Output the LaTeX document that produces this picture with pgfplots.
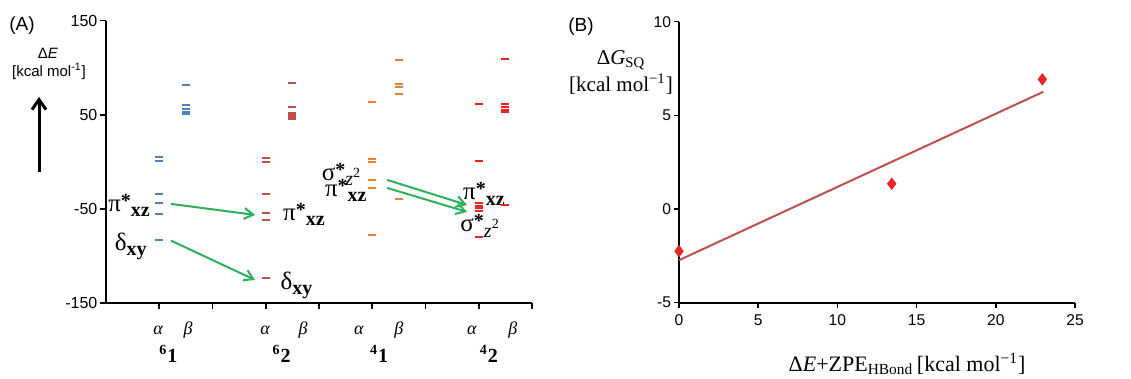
\documentclass[border=0pt]{standalone}
\usepackage{fontspec}
\setmainfont{Liberation Sans}
\newfontfamily\tnr{Liberation Serif}
\usepackage{pgfplots}
\pgfplotsset{compat=1.18}
\usetikzlibrary{arrows.meta}
\definecolor{cblue}{RGB}{79,129,189}
\definecolor{cbrown}{RGB}{192,80,77}
\definecolor{corange}{RGB}{237,125,49}
\definecolor{cred}{RGB}{238,34,34}
\definecolor{cgreen}{RGB}{46,176,90}
\definecolor{cline}{RGB}{192,80,77}
\newcommand{\grk}[1]{{\fontsize{12.5}{13}\selectfont #1}}
\newcommand{\pixz}{\grk{π}\raisebox{0.45ex}{\textbf{*}}\raisebox{-0.55ex}{\textbf{xz}}}
\newcommand{\dxy}{\grk{δ}\raisebox{-0.55ex}{\textbf{xy}}}
\newcommand{\szz}{\grk{σ}\raisebox{0.45ex}{\textbf{*}}\raisebox{-0.55ex}{\textit{z}\raisebox{0.9ex}{\fontsize{7}{8}\selectfont 2}}}
\pgfplotstableread{
x y
1 5.2
1 0.6
1 -34.1
1 -44
1 -55.7
1 -83
1.5 82
1.5 60
1.5 56
1.5 53.5
1.5 51
}\tblA
\pgfplotstableread{
x y
3 4.1
3 -0.1
3 -33.8
3 -54.6
3 -61.7
3 -123.7
3.5 84
3.5 58.3
3.5 52.3
3.5 49.8
3.5 47.4
3.5 45.3
}\tblB
\pgfplotstableread{
x y
5 63.3
5 2.8
5 0.2
5 -19.2
5 -27.4
5 -77.7
5.5 108
5.5 83
5.5 79.3
5.5 71.8
5.5 -39.4
}\tblC
\pgfplotstableread{
x y
7 61.8
7 1.3
7 -43.3
7 -46.5
7 -49.3
7 -52.2
7 -80
7.5 109.3
7.5 61.2
7.5 58
7.5 55.1
7.5 52.7
7.5 -45.8
}\tblD
\begin{document}
\begin{tikzpicture}
\path[use as bounding box] (0,0) rectangle (565.5pt,189.5pt);
\begin{axis}[at={(53pt,38pt)}, anchor=south west, scale only axis,
  width=213pt, height=141.15pt,
  xmin=0, xmax=8, ymin=-150, ymax=150,
  axis lines=left, axis line style={-, line width=1.2pt},
  xtick={1,...,8}, xticklabels={},
  ytick={-150,-50,50,150},
  tick align=outside, tick style={black, line width=0.8pt},
  major tick length=2.8pt,
  /pgf/number format/assume math mode=true,
  yticklabel style={font=\fontsize{8}{9}\selectfont, xshift=2pt},
  clip=false]
\addplot[only marks, mark=-, mark size=2pt, cblue, mark options={line width=1pt}] table[x=x,y=y] {\tblA};
\addplot[only marks, mark=-, mark size=2pt, cbrown, mark options={line width=1pt}] table[x=x,y=y] {\tblB};
\addplot[only marks, mark=-, mark size=2pt, corange, mark options={line width=1pt}] table[x=x,y=y] {\tblC};
\addplot[only marks, mark=-, mark size=2pt, cred, mark options={line width=1pt}] table[x=x,y=y] {\tblD};
\draw[cgreen, line width=1pt, -{Straight Barb[length=4.5pt,width=5.5pt]}] (axis cs:1.22,-44.7) -- (axis cs:2.80,-56.4);
\draw[cgreen, line width=1pt, -{Straight Barb[length=4.5pt,width=5.5pt]}] (axis cs:1.22,-83.7) -- (axis cs:2.80,-125.5);
\draw[cgreen, line width=1pt, -{Straight Barb[length=4.5pt,width=5.5pt]}] (axis cs:5.28,-19.2) -- (axis cs:6.78,-45.8);
\draw[cgreen, line width=1pt, -{Straight Barb[length=4.5pt,width=5.5pt]}] (axis cs:5.28,-27.7) -- (axis cs:6.78,-53.2);
\begin{scope}[every node/.style={font=\tnr\fontsize{10}{11}\selectfont, inner sep=0pt}]
\node[anchor=east] at (axis cs:0.83,-46) {\pixz};
\node[anchor=east] at (axis cs:0.77,-90) {\dxy};
\node[anchor=west] at (axis cs:3.32,-56) {\pixz};
\node[anchor=west] at (axis cs:3.27,-131) {\dxy};
\node[anchor=east] at (axis cs:4.78,-13) {\szz};
\node[anchor=east] at (axis cs:4.90,-30) {\pixz};
\node[anchor=west] at (axis cs:6.70,-34) {\pixz};
\node[anchor=west] at (axis cs:6.65,-68) {\szz};
\end{scope}
\begin{scope}[every node/.style={font=\tnr\itshape\fontsize{9}{10}\selectfont}]
\node at (axis cs:0.98,-178.6) {α};
\node at (axis cs:1.54,-178.6) {β};
\node at (axis cs:2.99,-178.6) {α};
\node at (axis cs:3.70,-178.6) {β};
\node at (axis cs:4.75,-178.6) {α};
\node at (axis cs:5.50,-178.6) {β};
\node at (axis cs:6.87,-178.6) {α};
\node at (axis cs:7.64,-178.6) {β};
\end{scope}
\begin{scope}[every node/.style={font=\tnr\bfseries\fontsize{10}{11}\selectfont}]
\node at (axis cs:1.17,-204) {\textsuperscript{6}1};
\node at (axis cs:3.30,-204) {\textsuperscript{6}2};
\node at (axis cs:5.13,-204) {\textsuperscript{4}1};
\node at (axis cs:7.19,-204) {\textsuperscript{4}2};
\end{scope}
\end{axis}
\begin{axis}[at={(339.5pt,38.15pt)}, anchor=south west, scale only axis,
  width=198pt, height=140.5pt,
  xmin=0, xmax=25, ymin=-5, ymax=10,
  axis lines=left, axis line style={-, line width=1pt},
  xtick={0,5,...,25}, ytick={-5,0,5,10},
  tick align=outside, tick style={black, line width=0.8pt}, major tick length=2.5pt,
  /pgf/number format/assume math mode=true,
  ticklabel style={font=\fontsize{7.8}{9}\selectfont},
  yticklabel style={xshift=2pt},
  clip=false]
\addplot[cline, line width=1pt] coordinates {(0,-2.73) (23,6.26)};
\addplot[only marks, mark=diamond*, mark size=2.8pt, cred] coordinates {(0,-2.25) (13.43,1.35) (22.94,6.92)};
\end{axis}
\node[font=\fontsize{9.5}{11}\selectfont] at (11pt,176.5pt) {(A)};
\node[font=\fontsize{7.5}{9}\selectfont] at (24pt,163pt) {Δ\textit{E}};
\node[font=\fontsize{7.5}{9}\selectfont] at (24.5pt,154pt) {[kcal mol\textsuperscript{-1}]};
\draw[line width=1.5pt, -{Straight Barb[length=5pt,width=7pt]}] (19.5pt,103.5pt) -- (19.5pt,141pt);
\node[font=\fontsize{9.5}{11}\selectfont] at (290.5pt,176pt) {(B)};
\node[font=\tnr\fontsize{10.5}{12}\selectfont] at (310.5pt,159.5pt) {Δ\textit{G}\textsubscript{SQ}};
\node[font=\tnr\fontsize{10.5}{12}\selectfont] at (310.5pt,147.5pt) {[kcal mol\textsuperscript{−1}]};
\node[font=\tnr\fontsize{11}{12}\selectfont] at (453.5pt,7.5pt) {Δ\textit{E}+ZPE\textsubscript{HBond}\,[kcal mol\textsuperscript{−1}]};
\end{tikzpicture}
\end{document}
